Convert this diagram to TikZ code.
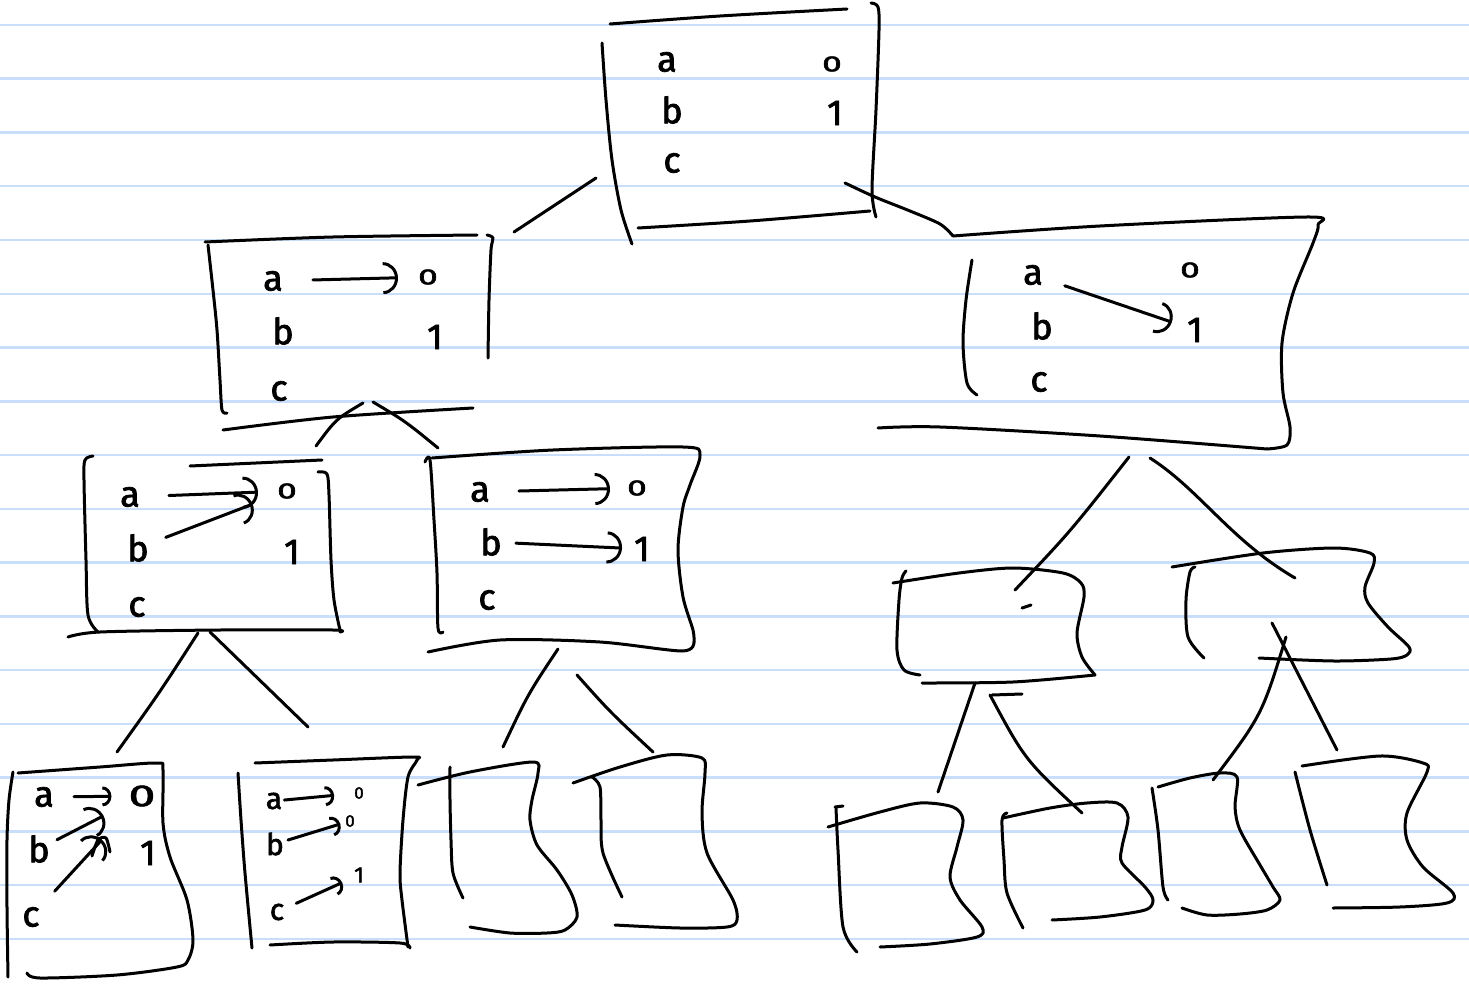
\documentclass[tikz,border=0pt]{standalone}
\usepackage{fontspec}
\setmainfont{Fira Sans}[FakeBold=2]
\usetikzlibrary{arrows.meta}
\definecolor{paperrule}{RGB}{200,222,250}
\newcommand{\wz}{\scalebox{1.6}[1]{0}}
\begin{document}
\begin{tikzpicture}[x=1pt,y=-1pt,
  hand/.style={line width=3pt,line cap=round,line join=round},
  harrow/.style={hand,-{Arc Barb[length=15pt,width=32pt]}},
  sarrow/.style={hand,-{Arc Barb[length=9pt,width=20pt]}},
  lt/.style={inner sep=0pt,font=\fontsize{36}{36}\selectfont},
  mt/.style={inner sep=0pt,font=\fontsize{30}{30}\selectfont},
  sm/.style={inner sep=0pt,font=\fontsize{22}{22}\selectfont},
  xs/.style={inner sep=0pt,font=\fontsize{17}{17}\selectfont}]
\useasboundingbox (0,0) rectangle (1469,984);
\fill[white] (0,0) rectangle (1469,984);
\foreach \i in {0,...,17} \draw[paperrule,line width=2.5pt] (0,{25+53.75*\i}) -- (1469,{25+53.75*\i});

% ---------- root box ----------
\draw[hand] plot[smooth] coordinates {(610,24) (720,16) (847,9)};
\draw[hand] plot[smooth] coordinates {(602,43) (606,100) (612,160) (621,210) (632,244)};
\draw[hand] plot[smooth] coordinates {(871,3) (878,7) (879,30) (876,110) (872,190) (876,217)};
\draw[hand] plot[smooth] coordinates {(638,228) (750,221) (870,211)};
\node[lt] (ra) at (667,62) {a};
\node[sm] (r0) at (832,64) {\wz};
\node[lt] (rb) at (672,110) {b};
\node[lt] (r1) at (835,113) {1};
\node[lt] (rc) at (672,163) {c};

% ---------- left child L ----------
\draw[hand] plot[smooth] coordinates {(205,242) (333,237) (477,235)};
\draw[hand] plot[smooth] coordinates {(208,245) (213,290) (217,330) (220,380) (222,410) (227,413)};
\draw[hand] plot[smooth] coordinates {(487,235) (493,238) (491,250) (489,300) (488,358)};
\draw[hand] plot[smooth] coordinates {(223,430) (333,417) (473,408)};
\node[lt] (la) at (273,281) {a};
\node[sm] (l0) at (428,277) {\wz};
\node[lt] (lb) at (283,331) {b};
\node[lt] (l1) at (435,337) {1};
\node[lt] (lc) at (279,391) {c};
\draw[harrow,shorten <=30pt,shorten >=20pt] (la) -- (l0);

% ---------- right child R ----------
\draw[hand] plot[smooth] coordinates {(953,236) (1100,226) (1307,217) (1318,225) (1313,243) (1293,293) (1282,343) (1283,393) (1290,427) (1287,445) (1267,449)};
\draw[hand] plot[smooth] coordinates {(878,428) (940,427) (1100,436) (1267,449)};
\draw[hand] plot[smooth] coordinates {(972,260) (966,300) (963,343) (967,383) (977,395)};
\node[lt] (Ra) at (1033,275) {a};
\node[sm] (R0) at (1190,270) {\wz};
\node[lt] (Rb) at (1042,326) {b};
\node[lt] (R1) at (1195,330) {1};
\node[lt] (Rc) at (1039,382) {c};
\draw[harrow,shorten <=23pt,shorten >=16pt] (Ra) -- (R1);

% ---------- LL ----------
\draw[hand] plot[smooth] coordinates {(93,456) (85,460) (84,480) (86,560) (88,615) (98,632)};
\draw[hand] plot[smooth] coordinates {(190,466) (322,460)};
\draw[hand] plot[smooth] coordinates {(318,472) (327,474) (329,495) (331,560) (334,600) (340,630)};
\draw[hand] plot[smooth] coordinates {(68,637) (100,632) (220,630) (333,630) (340,632)};
\node[lt] (lla) at (130,497) {a};
\node[sm] (ll0) at (287,491) {\wz};
\node[lt] (llb) at (138,548) {b};
\node[lt] (ll1) at (292,552) {1};
\node[lt] (llc) at (137,607) {c};
\draw[harrow,shorten <=29pt,shorten >=19pt] (lla) -- (ll0);
\draw[harrow,shorten <=18pt,shorten >=26pt] (llb) -- (ll0);

% ---------- LR ----------
\draw[hand] plot[smooth] coordinates {(432,458) (553,450) (683,447) (700,455) (690,485) (683,507) (678,550) (683,597) (693,630) (694,642)};
\draw[hand] plot[smooth] coordinates {(425,462) (430,460) (434,520) (437,573) (438,628) (443,632)};
\draw[hand] plot[smooth] coordinates {(428,652) (500,640) (600,642) (682,651) (694,642)};
\node[lt] (lra) at (480,492) {a};
\node[sm] (lr0) at (637,488) {\wz};
\node[lt] (lrb) at (491,542) {b};
\node[lt] (lr1) at (642,549) {1};
\node[lt] (lrc) at (487,600) {c};
\draw[harrow,shorten <=29pt,shorten >=17pt] (lra) -- (lr0);
\draw[harrow,shorten <=14pt,shorten >=12pt] (lrb) -- (lr1);

% ---------- LLL ----------
\draw[hand] plot[smooth] coordinates {(13,772) (9,800) (7,840) (7,907) (8,977)};
\draw[hand] plot[smooth] coordinates {(18,773) (100,767) (157,763) (163,770) (163,823) (170,857) (187,900) (193,940) (188,960) (177,967) (117,975) (40,978) (27,973)};
\node[lt] (llla) at (44,797) {a};
\node[mt] (lll0) at (142,796) {\wz};
\node[lt] (lllb) at (39,849) {b};
\node[lt] (lll1) at (148,853) {1};
\node[lt] (lllc) at (31,917) {c};
\draw[sarrow,shorten <=20pt,shorten >=17pt] (llla) -- (lll0);
\draw[harrow,shorten <=8pt,shorten >=28pt] (lllb) -- (lll0);
\draw[harrow,shorten <=22pt,shorten >=45pt] (lllc) -- (lll0);
\draw[hand] plot[smooth] coordinates {(92,856) (98,840) (106,838) (110,852)};

% ---------- LLR ----------
\draw[hand] plot[smooth] coordinates {(238,773) (241,820) (245,873) (252,948)};
\draw[hand] plot[smooth] coordinates {(255,763) (333,760) (413,757) (417,760) (408,777) (403,820) (400,873) (402,900) (408,947)};
\draw[hand] plot[smooth] coordinates {(270,945) (333,942) (400,943) (410,948)};
\node[mt] (lrla) at (274,801) {a};
\node[xs] (lrl0) at (359,793) {0};
\node[mt] (lrlb) at (275,844) {b};
\node[xs] (lrl0b) at (350,821) {0};
\node[mt] (lrlc) at (277,912) {c};
\node[sm] (lrl1) at (359,875) {1};
\draw[sarrow,shorten <=2pt,shorten >=20pt] (lrla) -- (lrl0);
\draw[sarrow,shorten <=4pt,shorten >=5pt] (lrlb) -- (lrl0b);
\draw[sarrow,shorten <=13pt,shorten >=13pt] (lrlc) -- (lrl1);

% ---------- LRL ----------
\draw[hand] plot[smooth] coordinates {(418,785) (470,772) (533,762) (538,773) (532,800) (530,820) (537,845) (557,870) (572,895) (577,917) (565,930) (547,933) (510,933) (470,927)};
\draw[hand] plot[smooth] coordinates {(450,767) (450,800) (451,840) (453,873) (463,898)};

% ---------- LRR ----------
\draw[hand] plot[smooth] coordinates {(573,783) (620,767) (667,755) (702,758) (705,773) (702,813) (707,853) (733,900) (737,920) (727,927) (680,928) (615,925)};
\draw[hand] plot[smooth] coordinates {(592,777) (600,787) (601,820) (603,853) (622,897)};

% ---------- RL ----------
\draw[hand] plot[smooth] coordinates {(906,571) (902,578) (899,600) (897,650) (904,670) (920,675)};
\draw[hand] plot[smooth] coordinates {(893,583) (959,573) (1013,568) (1063,573) (1081,583) (1084,597) (1077,633) (1082,657) (1095,675)};
\draw[hand] plot[smooth] coordinates {(922,683) (1013,682) (1095,675)};
\draw[hand] (1022,608) -- (1031,605);

% ---------- RR ----------
\draw[hand] plot[smooth] coordinates {(1172,567) (1263,553) (1334,548) (1370,553) (1374,563) (1365,587) (1368,603) (1388,627) (1409,647) (1407,655) (1391,659) (1334,661) (1259,658)};
\draw[hand] plot[smooth] coordinates {(1195,567) (1190,572) (1186,600) (1188,637) (1204,658)};

% ---------- RLL ----------
\draw[hand] (835,807) -- (843,806);
\draw[hand] plot[smooth] coordinates {(836,808) (838,850) (843,927) (857,952)};
\draw[hand] plot[smooth] coordinates {(828,827) (880,812) (920,803) (953,807) (963,820) (957,847) (950,877) (960,900) (982,927) (977,937) (930,944) (880,947)};

% ---------- RLR ----------
\draw[hand] plot[smooth] coordinates {(1007,813) (1002,820) (1004,860) (1007,893) (1023,928)};
\draw[hand] plot[smooth] coordinates {(1003,818) (1050,808) (1087,803) (1117,803) (1128,817) (1122,847) (1122,863) (1145,887) (1153,900) (1145,910) (1100,917) (1052,920)};

% ---------- RRL ----------
\draw[hand] plot[smooth] coordinates {(1152,788) (1158,830) (1163,887) (1168,900)};
\draw[hand] plot[smooth] coordinates {(1158,787) (1190,778) (1220,773) (1237,777) (1235,807) (1240,830) (1260,865) (1273,887) (1280,900) (1267,910) (1240,914) (1207,915) (1182,908)};

% ---------- RRR ----------
\draw[hand] plot[smooth] coordinates {(1302,766) (1380,756) (1423,763) (1427,772) (1407,813) (1407,840) (1423,867) (1453,893) (1447,903) (1400,907) (1333,908)};
\draw[hand] plot[smooth] coordinates {(1295,772) (1310,830) (1327,885)};

% ---------- tree edges ----------
\coordinate (rootL) at (596,178);  \coordinate (Ltop) at (514,232);
\coordinate (rootR) at (845,183);  \coordinate (Rtop) at (953,236);
\coordinate (LbL) at (363,403);    \coordinate (LLtop) at (316,446);
\coordinate (LbR) at (373,402);    \coordinate (LRtop) at (438,448);
\coordinate (LLbL) at (198,633);   \coordinate (LLLtop) at (117,752);
\coordinate (LLbR) at (210,632);   \coordinate (LLRtop) at (308,727);
\coordinate (LRbL) at (558,649);   \coordinate (LRLtop) at (503,747);
\coordinate (LRbR) at (577,675);   \coordinate (LRRtop) at (653,752);
\coordinate (RbL) at (1129,457);   \coordinate (RLtop) at (1015,590);
\coordinate (RbR) at (1150,458);   \coordinate (RRtop) at (1295,578);
\coordinate (RLbL) at (975,683);   \coordinate (RLLtop) at (938,792);
\coordinate (RLbR) at (990,695);   \coordinate (RLRtop) at (1082,813);
\coordinate (RRbL) at (1286,637);  \coordinate (RRLtop) at (1213,780);
\coordinate (RRbR) at (1272,623);  \coordinate (RRRtop) at (1337,750);

\draw[hand] (rootL) -- (Ltop);
\draw[hand] plot[smooth] coordinates {(rootR) (875,197) (910,211) (940,224) (Rtop)};
\draw[hand] (LbL) .. controls (336,419) .. (LLtop);
\draw[hand] (LbR) .. controls (405,421) .. (LRtop);
\draw[hand] (LLbL) .. controls (160,692) .. (LLLtop);
\draw[hand] (LLbR) -- (LLRtop);
\draw[hand] (LRbL) .. controls (528,694) .. (LRLtop);
\draw[hand] (LRbR) .. controls (610,712) .. (LRRtop);
\draw[hand] (RbL) .. controls (1070,532) .. (RLtop);
\draw[hand] (RbR) .. controls (1200,490) and (1230,540) .. (RRtop);
\draw[hand] (RLbL) .. controls (958,733) .. (RLLtop);
\draw[hand] (RLbR) .. controls (1025,760) .. (RLRtop);
\draw[hand] (992,695) -- (1022,694);
\draw[hand] (RRbL) .. controls (1262,715) .. (RRLtop);
\draw[hand] (RRbR) -- (RRRtop);
\end{tikzpicture}
\end{document}
